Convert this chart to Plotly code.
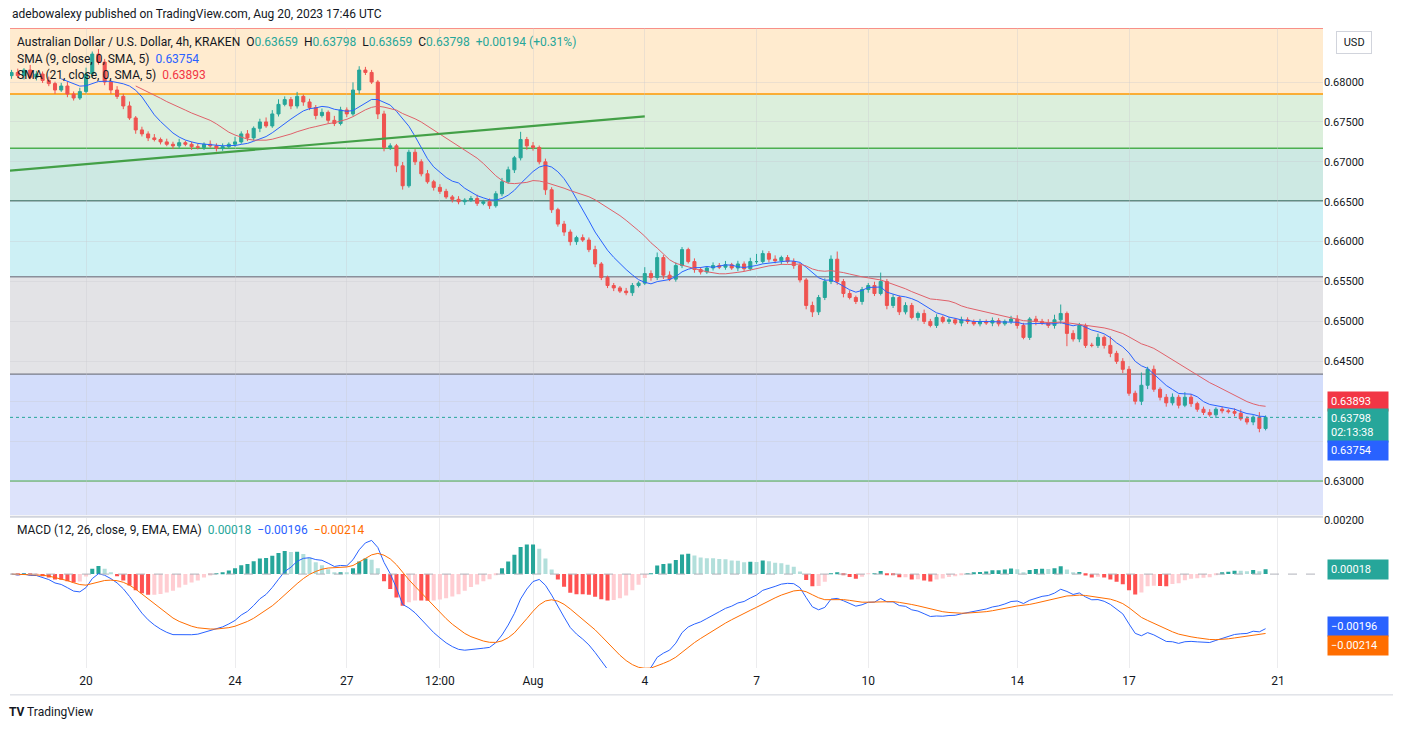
import plotly.graph_objects as go
import pandas as pd
import numpy as np

start = "2023-07-18 00:00"
closes = [
0.6812,0.6808,0.6815,0.6806,0.6810,0.6802,
0.6798,0.6790,0.6795,0.6785,0.6780,0.6788,
0.6810,0.6835,0.6825,0.6800,0.6790,0.6782,
0.6770,0.6755,0.6740,0.6735,0.6730,0.6728,
0.6725,0.6722,0.6720,0.6724,0.6722,0.6719,
0.6718,0.6722,0.6720,0.6717,0.6719,0.6722,
0.6725,0.6735,0.6730,0.6742,0.6750,0.6745,
0.6760,0.6772,0.6778,0.6770,0.6782,0.6775,
0.6768,0.6758,0.6762,0.6752,0.6748,0.6765,
0.6760,0.6790,0.6815,0.6812,0.6800,0.6760,
0.6718,0.6720,0.6695,0.6670,0.6712,0.6700,
0.6685,0.6675,0.6668,0.6663,0.6656,0.6653,
0.6650,0.6652,0.6654,0.6648,0.6650,0.6645,
0.6660,0.6675,0.6690,0.6705,0.6728,0.6720,
0.6718,0.6700,0.6665,0.6640,0.6622,0.6612,
0.6600,0.6605,0.6602,0.6590,0.6572,0.6555,
0.6545,0.6542,0.6538,0.6536,0.6545,0.6548,
0.6560,0.6555,0.6580,0.6558,0.6553,0.6570,
0.6590,0.6575,0.6565,0.6562,0.6567,0.6570,
0.6568,0.6571,0.6567,0.6572,0.6566,0.6575,
0.6575,0.6585,0.6578,0.6576,0.6580,0.6575,
0.6570,0.6552,0.6520,0.6512,0.6530,0.6550,
0.6578,0.6550,0.6535,0.6530,0.6525,0.6540,
0.6545,0.6535,0.6550,0.6520,0.6530,0.6512,
0.6520,0.6505,0.6510,0.6500,0.6495,0.6505,
0.6500,0.6502,0.6498,0.6502,0.6500,0.6497,
0.6500,0.6498,0.6501,0.6497,0.6500,0.6503,
0.6495,0.6480,0.6503,0.6500,0.6498,0.6495,
0.6502,0.6510,0.6485,0.6478,0.6495,0.6470,
0.6470,0.6480,0.6470,0.6460,0.6450,0.6440,
0.6410,0.6400,0.6420,0.6440,0.6415,0.6405,
0.6398,0.6405,0.6395,0.6405,0.6397,0.6390,
0.6386,0.6383,0.6390,0.6388,0.6387,0.6385,
0.6378,0.6374,0.6380,0.63659,0.63798]
# wick sizes in pips
wick_hi = [4,6,3,8,5,4, 6,3,5,7,4,6, 10,4,8,5,3,6, 4,7,3,5,4,6, 3,5,4,6,3,4,
 5,3,6,4,5,3, 8,4,6,3,5,7, 6,8,5,4,7,3, 5,4,6,3,7,5, 4,12,6,5,4,3,
 5,4,3,6,4,5, 4,6,3,5,4,3, 5,3,4,6,3,5, 4,6,5,3,12,4, 6,3,5,4,3,5,
 4,3,5,4,6,3, 3,4,3,5,4,3, 10,5,8,4,6,5, 4,3,5,4,3,5, 4,6,3,5,4,6,
 12,5,4,6,3,4, 5,4,3,6,4,5, 6,12,4,5,3,4, 4,6,14,4,5,3, 5,4,3,6,4,5,
 3,4,3,5,4,3, 4,3,5,4,3,5, 6,4,3,5,4,6, 8,14,3,5,4,3, 4,6,3,14,4,5,
 5,4,20,4,6,3, 5,6,4,8,5,3, 4,5,3,4,3,5, 6,4,3,8,3]
wick_lo = [5,4,6,3,5,4, 4,6,3,5,4,3, 3,6,4,5,6,4, 5,3,6,4,5,3, 4,3,5,4,3,5,
 3,4,3,5,4,3, 4,3,5,4,6,3, 3,4,3,5,4,6, 4,6,3,5,4,3, 5,3,6,4,3,8,
 6,4,10,6,3,5, 4,3,5,4,3,5, 4,5,3,4,3,5, 3,4,3,5,4,6, 5,4,8,5,4,6,
 6,5,3,4,5,4, 4,5,3,4,5,3, 3,5,4,6,3,4, 4,3,5,4,3,4, 3,4,3,5,4,3,
 4,3,5,4,6,3, 5,4,6,8,5,4, 4,5,6,3,4,5, 5,4,3,6,4,5, 4,3,5,4,3,4,
 3,4,3,5,4,3, 4,3,5,4,3,4, 5,3,4,6,3,4, 5,6,20,4,5,4, 3,4,5,6,4,6,
 4,5,6,6,4,5, 6,4,5,3,5,4, 4,3,5,4,3,5, 3,4,5,6,3]
tick_vals = ["2023-07-20","2023-07-24","2023-07-27","2023-07-29 12:00","2023-08-01",
             "2023-08-04","2023-08-07","2023-08-10","2023-08-14","2023-08-17","2023-08-21"]
tick_text = ["20","24","27","12:00","Aug","4","7","10","14","17","21"]
price_ticks = [0.630,0.635,0.640,0.645,0.650,0.655,0.660,0.665,0.670,0.675,0.680]

n = len(closes)
x = pd.date_range(start, periods=n, freq="4h")
c = np.array(closes)
o = np.concatenate([[0.6808], c[:-1]])
o[-1] = 0.63659
h = np.maximum(o, c) + np.array(wick_hi[:n]) * 0.0001 * 0.8
l = np.minimum(o, c) - np.array(wick_lo[:n]) * 0.0001 * 0.8
s = pd.Series(c)
sma9 = s.rolling(9).mean()
sma21 = s.rolling(21).mean()
ema12 = s.ewm(span=12, adjust=False).mean()
ema26 = s.ewm(span=26, adjust=False).mean()
macd = ema12 - ema26
sig = macd.ewm(span=9, adjust=False).mean()
hist = macd - sig
hcol = []
for i, v in enumerate(hist):
    prev = hist[i-1] if i else v
    if v >= 0:
        hcol.append("#26a69a" if v >= prev else "#b2dfdb")
    else:
        hcol.append("#ff5252" if v <= prev else "#ffcdd2")

fig = go.Figure()
x0, x1 = "2023-07-17 23:00", "2023-08-22 05:00"
bands = [(0.6868,0.6785,"#ffebcf"),(0.6785,0.6717,"#dcefdc"),(0.6717,0.6651,"#cde9e3"),
         (0.6651,0.6556,"#cdf0f5"),(0.6556,0.6434,"#e3e3e6"),(0.6434,0.6300,"#d3ddfb"),
         (0.6300,0.6257,"#dde3fb")]
for a, b, col in bands:
    fig.add_shape(type="rect", xref="x", yref="y", x0=x0, x1=x1, y0=b, y1=a,
                  fillcolor=col, line_width=0, layer="below")
for yv, col in [(0.6868,"#f23645"),(0.6785,"#ff9800"),(0.6717,"#4caf50"),(0.6651,"#3c6e64"),
                (0.6556,"#8a8f9a"),(0.6434,"#787b86"),(0.6300,"#4caf50")]:
    fig.add_shape(type="line", xref="x", yref="y", x0=x0, x1=x1, y0=yv, y1=yv,
                  line=dict(color=col, width=1.3), layer="below")
fig.add_trace(go.Candlestick(x=x, open=o, high=h, low=l, close=c, yaxis="y", xaxis="x",
    increasing=dict(line=dict(color="#26a69a", width=1), fillcolor="#26a69a"),
    decreasing=dict(line=dict(color="#ef5350", width=1), fillcolor="#ef5350"),
    whiskerwidth=0, showlegend=False))
fig.add_trace(go.Scatter(x=x, y=sma9, mode="lines", line=dict(color="#2962ff", width=1), showlegend=False))
fig.add_trace(go.Scatter(x=x, y=sma21, mode="lines", line=dict(color="#e0616a", width=1), showlegend=False))
fig.add_shape(type="line", xref="x", yref="y", x0="2023-07-17 23:00", x1="2023-08-04",
              y0=0.6689, y1=0.6757, line=dict(color="#43a047", width=2.2))
fig.add_shape(type="line", xref="x", yref="y", x0=x0, x1=x1, y0=0.63798, y1=0.63798,
              line=dict(color="#26a69a", width=1, dash="dot"))
fig.add_trace(go.Bar(x=x, y=hist, marker_color=hcol, marker_line_width=0, xaxis="x2", yaxis="y2", showlegend=False))
fig.add_trace(go.Scatter(x=x, y=macd, mode="lines", line=dict(color="#2962ff", width=1), xaxis="x2", yaxis="y2", showlegend=False))
fig.add_trace(go.Scatter(x=x, y=sig, mode="lines", line=dict(color="#ff6d00", width=1), xaxis="x2", yaxis="y2", showlegend=False))
fig.add_shape(type="line", xref="x2", yref="y2", x0=x0, x1=x1, y0=0, y1=0,
              line=dict(color="#b0b3bb", width=1, dash="dash"))

fig.update_layout(
    width=1401, height=730, margin=dict(l=2, r=86, t=20, b=70),
    paper_bgcolor="white", plot_bgcolor="white", bargap=0.35,
    font=dict(family="Roboto, Liberation Sans, sans-serif", size=12, color="#131722"),
    xaxis=dict(range=[x0, x1], domain=[0,1], anchor="y", showticklabels=False,
               showgrid=True, gridcolor="rgba(200,200,205,0.35)", tickvals=tick_vals,
               rangeslider=dict(visible=False), zeroline=False),
    xaxis2=dict(range=[x0, x1], domain=[0,1], anchor="y2", tickvals=tick_vals, ticktext=tick_text,
                showgrid=True, gridcolor="rgba(200,200,205,0.35)", ticks="", zeroline=False,
                tickfont=dict(size=12, color="#131722"), showline=False, ticklabelstandoff=4),
    yaxis=dict(domain=[0.239,1], range=[0.62574,0.68677], side="right", tickvals=price_ticks,
               ticktext=["" if v in (0.635, 0.640) else f"{v:.5f}" for v in price_ticks], showgrid=True,
               gridcolor="rgba(200,200,205,0.35)", zeroline=False, tickfont=dict(size=11)),
    yaxis2=dict(domain=[0,0.234], range=[-0.00348,0.00207], side="right", tickvals=[0.002],
                ticktext=["0.00200"], showgrid=False, zeroline=False, tickfont=dict(size=11)),
)
fig.add_shape(type="line", xref="paper", yref="paper", x0=0, x1=1, y0=0.2365, y1=0.2365,
              line=dict(color="#d1d4dc", width=2))
fig.add_shape(type="line", xref="paper", yref="paper", x0=0, x1=1.07, y0=-0.042, y1=-0.042,
              line=dict(color="#d1d4dc", width=1))

fig.add_annotation(xref="paper", yref="paper", x=0.0, y=1.022, text="adebowalexy published on TradingView.com, Aug 20, 2023 17:46 UTC",
                   showarrow=False, xanchor="left", yanchor="middle", font=dict(size=12, color="#131722"))
fig.add_annotation(xref="paper", yref="paper", x=0.004, y=0.978,
    text="Australian Dollar / U.S. Dollar, 4h, KRAKEN  O<span style='color:#26a69a'>0.63659</span>  H<span style='color:#26a69a'>0.63798</span>  L<span style='color:#26a69a'>0.63659</span>  C<span style='color:#26a69a'>0.63798  +0.00194 (+0.31%)</span>",
    showarrow=False, xanchor="left", yanchor="middle", font=dict(size=12, color="#131722"))
fig.add_annotation(xref="paper", yref="paper", x=0.004, y=0.952,
    text="SMA (9, close, 0, SMA, 5)  <span style='color:#2962ff'>0.63754</span>", showarrow=False, xanchor="left", yanchor="middle", font=dict(size=12, color="#131722"))
fig.add_annotation(xref="paper", yref="paper", x=0.004, y=0.927,
    text="SMA (21, close, 0, SMA, 5)  <span style='color:#f23645'>0.63893</span>", showarrow=False, xanchor="left", yanchor="middle", font=dict(size=12, color="#131722"))
fig.add_annotation(xref="paper", yref="paper", x=0.004, y=0.216,
    text="MACD (12, 26, close, 9, EMA, EMA)  <span style='color:#26a69a'>0.00018</span>  <span style='color:#2962ff'>−0.00196</span>  <span style='color:#ff6d00'>−0.00214</span>",
    showarrow=False, xanchor="left", yanchor="middle", font=dict(size=12, color="#131722"))

def ylab(yref, yv, text, bg):
    fig.add_annotation(xref="paper", yref=yref, x=1.003, y=yv, text=text, showarrow=False,
                       xanchor="left", yanchor="middle", bgcolor=bg, font=dict(size=11, color="white"),
                       borderpad=3, align="left", width=54)
ylab("y", 0.64003, "0.63893", "#f23645")
ylab("y", 0.63700, "0.63798<br>02:13:38", "#26a69a")
ylab("y", 0.63389, "0.63754", "#2962ff")
ylab("y2", 0.00018, "0.00018", "#26a69a")
ylab("y2", -0.00196, "−0.00196", "#2962ff")
ylab("y2", -0.00263, "−0.00214", "#ff6d00")
fig.add_annotation(xref="paper", yref="paper", x=1.01, y=0.977, text=" USD ", showarrow=False,
                   xanchor="left", yanchor="middle", bordercolor="#d1d4dc", borderwidth=1, borderpad=4,
                   font=dict(size=11, color="#131722"), bgcolor="white")
fig.add_annotation(xref="paper", yref="paper", x=-0.002, y=-0.069, text="<b>TV</b> TradingView",
                   showarrow=False, xanchor="left", yanchor="middle", font=dict(size=12, color="#131722"))
fig.write_html("out.html")
